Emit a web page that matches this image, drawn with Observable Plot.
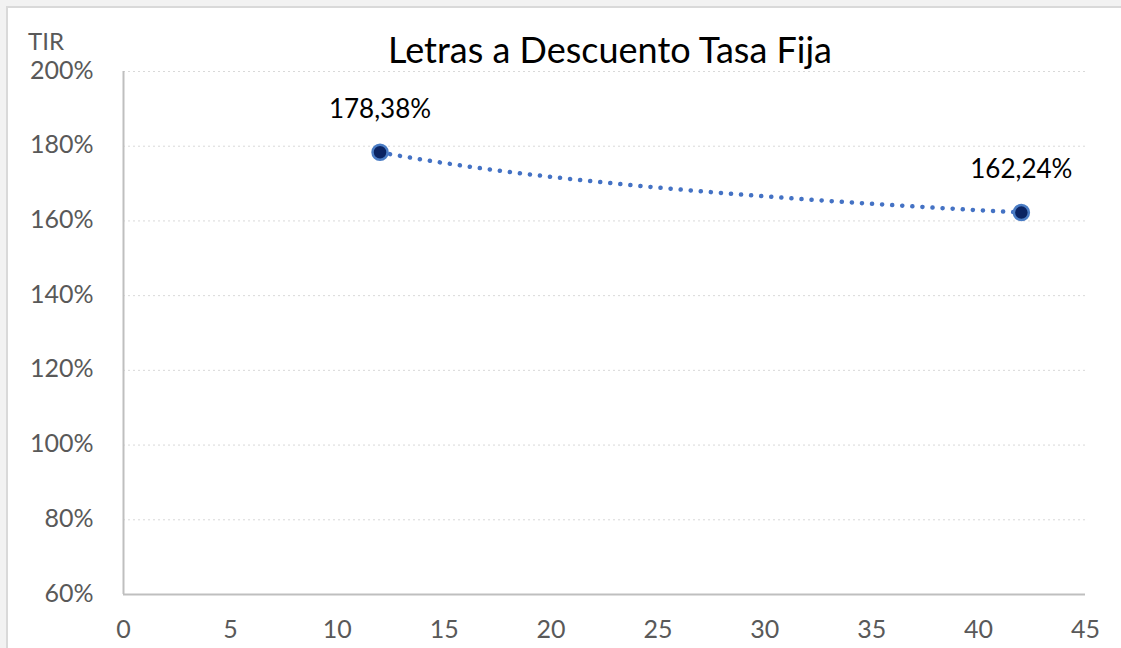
<!DOCTYPE html>
<html>
<head>
<meta charset="utf-8">
<script src="https://cdn.jsdelivr.net/npm/d3@7"></script>
<script src="https://cdn.jsdelivr.net/npm/@observablehq/plot@0.6"></script>
<style>
  html, body { margin: 0; padding: 0; background: #f2f2f2; width: 1121px; height: 648px; overflow: hidden; }
  #box { position: absolute; left: 6px; top: 6px; width: 1200px; height: 700px; background: #fff; border: 2px solid #d9d9d9; box-sizing: border-box; overflow: hidden; }
  #chart { position: absolute; left: -8px; top: -8px; }
  .lbl { position: absolute; font-family: Lato, "Open Sans", sans-serif; white-space: nowrap; line-height: 1; }
  #title { left: 0; width: 1220px; top: 31px; text-align: center; font-size: 36px; color: #000; }
  #tir { left: 28px; top: 29px; font-size: 24px; color: #595959; }
</style>
</head>
<body>
<div id="box"><div id="chart"></div></div>
<div class="lbl" id="title">Letras a Descuento Tasa Fija</div>
<div class="lbl" id="tir">TIR</div>
<script>
// Data
const plazos = [12, 42];          // días
const tir = [178.38, 162.24];     // TIR %
const yTicks = [60, 80, 100, 120, 140, 160, 180, 200];
const xTicks = [0, 5, 10, 15, 20, 25, 30, 35, 40, 45];

const data = plazos.map((x, i) => ({x, y: tir[i]}));
const es = d3.formatLocale({decimal: ",", thousands: ".", grouping: [3], currency: ["", "€"]});
const fmtLabel = v => es.format(".2f")(v) + "%";

// Excel-style logarithmic trendline fitted to the data points (least squares on ln x)
const lx = plazos.map(Math.log);
const mx = d3.mean(lx), my = d3.mean(tir);
const slope = d3.sum(lx.map((v, i) => (v - mx) * (tir[i] - my))) / d3.sum(lx.map(v => (v - mx) ** 2));
const icpt = my - slope * mx;
const trend = d3.range(d3.min(plazos), d3.max(plazos) + 0.001, 0.25).map(x => ({x, y: icpt + slope * Math.log(x)}));

const font = "Lato, 'Open Sans', sans-serif";
const chart = Plot.plot({
  width: 1121,
  height: 648,
  marginLeft: 123,
  marginRight: 36,
  marginTop: 71,
  marginBottom: 54,
  style: {background: "transparent", fontFamily: font},
  x: {domain: [0, 45]},
  y: {domain: [60, 200]},
  marks: [
    Plot.gridY(yTicks.filter(d => d > 60), {stroke: "#d9d9d9", strokeOpacity: 1, strokeDasharray: "2 3", strokeWidth: 1}),
    Plot.ruleX([0], {stroke: "#bfbfbf", strokeWidth: 2}),
    Plot.ruleY([60], {stroke: "#bfbfbf", strokeWidth: 2}),
    Plot.axisY(yTicks, {tickSize: 0, tickPadding: 30, fontSize: 25, fill: "#595959", tickFormat: d => d + "%", label: null, dy: -1}),
    Plot.axisX(xTicks, {tickSize: 0, tickPadding: 26, fontSize: 25, fill: "#595959", label: null}),
    Plot.line(trend, {x: "x", y: "y", stroke: "#4472c4", strokeWidth: 4.5, strokeDasharray: "0.1 10", strokeLinecap: "round"}),
    Plot.dot(data, {x: "x", y: "y", r: 7.5, fill: "#0b2462", stroke: "#4a7cc4", strokeWidth: 2.5}),
    Plot.text(data, {x: "x", y: "y", text: d => fmtLabel(d.y), dy: -43, fontSize: 26, fill: "#000"})
  ]
});
document.getElementById("chart").appendChild(chart);
</script>
</body>
</html>
